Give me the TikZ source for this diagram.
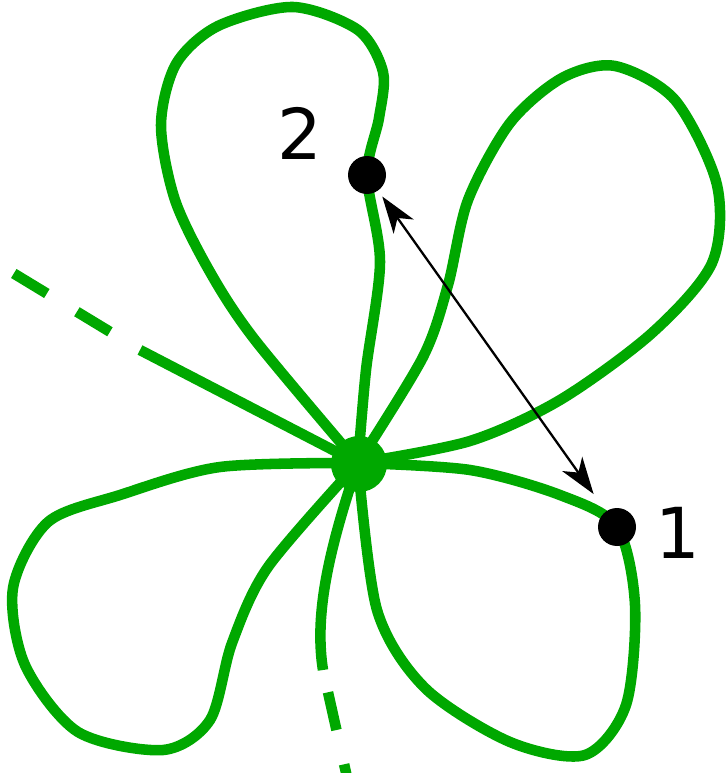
\documentclass[tikz,border=0pt]{standalone}
\usepackage{fontspec}
\setmainfont{DejaVu Sans}
\usetikzlibrary{arrows.meta, positioning}
\definecolor{color_petal}{HTML}{00A800}
\definecolor{color_text}{HTML}{000000}
\tikzset{
  petal_line/.style={draw=color_petal, line width=6pt, line join=round},
  petal_dash/.style={draw=color_petal, line width=6pt, dash pattern=on 22pt off 20pt},
  hub_dot/.style={circle, fill=color_petal, inner sep=0pt, minimum size=1.12cm},
  point_dot/.style={circle, fill=color_text, inner sep=0pt, minimum size=0.76cm},
  point_label/.style={font=\fontsize{40}{48}\selectfont, text=color_text, inner sep=0pt},
  jump_arrow/.style={{Stealth[length=21pt, width=14pt, inset=6pt]}-{Stealth[length=21pt, width=14pt, inset=6pt]}, draw=color_text, line width=1.3pt},
}

\begin{document}
\begin{tikzpicture}[x=0.02cm, y=-0.02cm]
    \useasboundingbox (0,0) rectangle (727,773);
    \clip (0,0) rectangle (727,773);

    % petals
    \draw[petal_line] plot[smooth] coordinates {(358,463) (366,370) (380,262) (367,175) (379,118) (383,72) (358,30) (293,7) (218,26) (176,64) (161,125) (175,200) (210,272) (255,340) (358,463)};
    \draw[petal_line] plot[smooth] coordinates {(358,463) (423,357) (448,285) (468,200) (510,123) (562,78) (615,66) (675,100) (717,185) (712,263) (652,333) (560,400) (470,441) (358,463)};
    \draw[petal_line] plot[smooth] coordinates {(358,463) (470,470) (560,495) (617,527) (635,605) (626,705) (585,755) (510,742) (425,688) (377,610) (358,463)};
    \draw[petal_line] plot[smooth] coordinates {(358,463) (220,467) (120,495) (48,522) (13,588) (25,665) (78,732) (163,750) (210,720) (232,643) (268,567) (358,463)};

    % open branches
    \coordinate (left_mid) at (140,350);
    \coordinate (left_end) at (13,273);
    \coordinate (down_mid) at (323,670);
    \coordinate (down_end) at (351,795);
    \draw[petal_line] (358,463) -- (left_mid);
    \draw[petal_dash, dash phase=22pt] (left_mid) -- (left_end);
    \draw[petal_line] (358,463) .. controls (325,560) and (315,620) .. (down_mid);
    \draw[petal_dash, dash phase=29pt] (down_mid) -- (down_end);

    \node[hub_dot] (hub) at (359,464) {};
    \node[point_dot] (p2) at (367,175) {};
    \node[point_dot] (p1) at (617,527) {};
    \node[point_label] (l2) at (300,133) {2};
    \node[point_label] (l1) at (678,533) {1};

    \draw[jump_arrow, shorten <=4pt, shorten >=12pt] (p2) -- (p1);
  \end{tikzpicture}
\end{document}
